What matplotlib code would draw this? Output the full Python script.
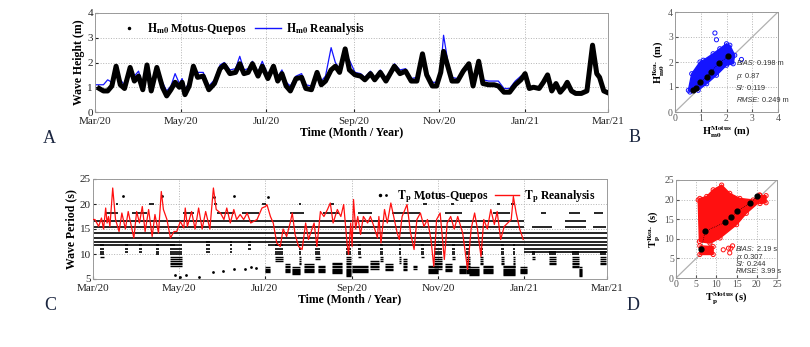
import numpy as np
import matplotlib
matplotlib.use("Agg")
import matplotlib.pyplot as plt
import matplotlib.dates as mdates
from matplotlib.lines import Line2D
from matplotlib.patches import Polygon

plt.rcParams["font.family"] = "Liberation Serif"
plt.rcParams["mathtext.fontset"] = "stix"

START = np.datetime64("2020-03-01T00")
BLUE = "#1414ff"
RED = "#ff1010"
GRID = "#b4b4b4"
LETTER = "#1b2640"

# ── Hm0 time series (day since 2020-03-01) ─────────────────────
hs_day = [0, 3, 6, 9, 12, 15, 18, 21, 25, 28, 31, 34, 37, 40, 44, 48, 51, 54, 57, 60,
          62, 64, 67, 70, 73, 77, 81, 85, 89, 92, 96, 100, 103, 106, 109, 112, 116, 119,
          123, 127, 130, 133, 136, 139, 143, 147, 150, 154, 158, 161, 164, 168, 171, 174,
          178, 181, 185, 189, 192, 196, 199, 203, 207, 213, 217, 221, 225, 229, 233, 236,
          240, 243, 246, 248, 251, 254, 258, 262, 266, 269, 273, 276, 280, 284, 287, 291,
          295, 299, 303, 306, 309, 312, 316, 319, 322, 325, 328, 331, 334, 336, 339, 342,
          346, 350, 354, 357, 359, 362, 364]
hs_obs = [np.nan, 0.95, 0.85, 0.85, 1.05, 1.85, 1.10, 0.95, 1.80, 1.25, 1.45, 0.90, 1.90,
          0.85, 1.80, 1.00, 0.65, 0.90, 1.20, 1.00, 1.20, 0.70, 1.05, 1.85, 1.40, 1.45,
          0.90, 1.15, 1.75, 1.90, 1.55, 1.60, 1.95, 1.55, 1.60, 1.95, 1.45, 1.85, 1.35,
          1.85, 1.25, 1.55, 1.05, 0.85, 1.35, 1.40, 0.95, 0.90, 1.60, 1.10, 1.25, 1.70,
          1.85, 1.60, 2.55, 1.70, 1.50, 1.45, 1.30, 1.55, 1.30, 1.60, 1.25, 1.85, 1.55,
          1.65, 1.25, 1.25, 2.35, 1.50, 1.05, 1.05, 1.60, 2.45, 1.85, 1.25, 1.25, 1.65,
          1.95, 1.05, 2.05, 1.15, 1.10, 1.10, 1.05, 0.80, 0.80, 1.10, 1.30, 1.55, 0.95,
          1.00, 0.95, 1.20, 1.50, 0.85, 1.15, 0.80, 1.00, 1.20, 0.85, 0.75, 0.75, 0.85,
          2.70, 1.55, 1.40, 0.85, 0.80]
hs_rea = [1.10, 1.10, 1.10, 1.30, 1.20, 1.75, 1.30, 1.10, 1.75, 1.45, 1.65, 1.05, 1.95,
          1.05, 1.85, 1.20, 0.85, 1.05, 1.55, 1.15, 1.35, 0.90, 1.20, 1.75, 1.60, 1.60,
          1.05, 1.30, 1.90, 2.00, 1.70, 1.75, 2.25, 1.70, 1.75, 2.05, 1.60, 2.05, 1.50,
          1.90, 1.40, 1.70, 1.20, 1.05, 1.45, 1.55, 1.10, 1.05, 1.65, 1.25, 1.45, 2.60,
          2.00, 1.75, 2.30, 2.10, 1.60, 1.55, 1.40, 1.65, 1.40, 1.70, 1.35, 1.95, 1.70,
          1.75, 1.35, 1.40, 2.20, 1.60, 1.20, 1.20, 1.75, 3.10, 2.05, 1.40, 1.35, 1.75,
          1.70, 1.20, 1.60, 1.30, 1.25, 1.25, 1.25, 0.95, 0.95, 1.25, 1.45, 1.50]
hs_rea += [np.nan] * (len(hs_day) - len(hs_rea))

# ── Tp reanalysis ─────────────────────────────────────────────
tp_rea_day = [0, 1.4, 4, 6, 7.5, 9, 10, 11, 12, 14, 16, 18.5, 20.5, 23, 25, 27.5, 29, 31, 33,
              35, 37, 39.5, 42, 44, 46.5, 48.5, 50, 52.5, 55, 57.5, 59.5, 62, 64.5, 65.5,
              67, 70, 72.5, 75, 77.5, 80, 83, 85.5, 87.5, 90.5, 93, 95, 97.5, 100, 102,
              104.5, 107, 109.5, 112, 116.5, 120, 122.5, 123.5, 126, 128, 130.5, 133, 135,
              137.5, 140, 141.5, 143.5, 146, 148.5, 151, 153, 157, 159, 161.5, 164, 166.5,
              168.5, 170.5, 173.5, 176, 178, 180.5, 181.5, 183, 184, 185, 186.5, 188, 190,
              192, 195, 197, 199.5, 202, 203, 204.5, 207, 209, 211.5, 214, 216, 217.5,
              219.5, 223, 225.5, 228, 230, 232.5, 235, 237.5, 240, 242, 244, 246.5, 249.5,
              251.5, 254, 256.5, 259, 262.5, 266, 268.5, 271, 273, 275.5, 277.5, 280,
              282.5, 285, 287, 289.5, 292, 294.5, 297, 298.5, 300.5, 303, 305.5]
tp_rea = [16.9, 16.9, 15.5, 17.2, 15.0, 19.2, 16.2, 17.5, 15.5, 23.2, 16.9, 14.5, 18.2, 15.0,
          18.5, 15.2, 13.2, 18.5, 16.2, 19.5, 14.5, 18.9, 13.5, 17.9, 14.2, 22.5, 18.9, 16.9,
          13.2, 14.5, 14.5, 16.5, 15.2, 19.2, 15.5, 18.5, 15.0, 19.2, 15.0, 18.5, 15.0, 23.2,
          18.9, 18.2, 16.9, 19.2, 16.2, 18.9, 16.9, 17.9, 16.9, 18.2, 16.2, 16.9, 19.2, 19.5,
          19.9, 17.5, 16.2, 12.2, 11.5, 15.0, 13.5, 16.2, 18.2, 13.9, 11.5, 10.9, 16.2, 12.9,
          16.2, 11.5, 18.5, 17.5, 18.9, 20.2, 16.2, 18.9, 17.5, 19.9, 11.9, 9.9, 16.2, 11.5,
          20.9, 15.0, 17.5, 13.9, 17.5, 16.2, 17.5, 15.5, 13.2, 17.5, 12.2, 18.9, 16.2, 20.2,
          16.9, 14.2, 12.9, 17.5, 19.9, 14.2, 10.9, 16.9, 18.2, 15.5, 16.9, 12.9, 7.5, 16.9,
          18.2, 8.9, 16.2, 17.5, 15.0, 17.5, 14.2, 6.9, 15.0, 18.2, 15.0, 9.5, 16.9, 15.0,
          18.9, 15.9, 18.5, 12.9, 15.5, 16.2, 16.9, 21.5, 18.2, 15.0, 12.9]

# ── Tp observed: buoy period bins and where they were recorded ──
tp_levels = [22.2, 20.0, 18.2, 16.7, 15.4, 14.3, 13.3, 12.5, 11.8, 11.1, 10.5, 10.0, 9.5,
             9.1, 8.7, 8.3, 8.0, 7.7, 7.4, 7.1, 6.9, 6.7, 6.5, 6.2, 6.1, 5.9, 5.7, 5.6]
seg_start = [0, 58, 124, 183, 306,
             9, 28, 64, 88, 106, 140, 163, 188, 212, 250, 284, 318, 338, 356,
             16, 40, 86, 120, 146, 169, 234, 254, 287, 297, 312, 335, 355,
             5, 23, 33, 45, 55, 80, 97, 110, 129, 146, 158, 180, 188, 204, 217, 233, 242,
             255, 265, 275, 290, 298, 312, 324, 340, 345, 360,
             122, 136, 141, 150, 160, 170, 184, 197, 207, 220, 227, 238, 250, 260, 267,
             277, 291, 303]
seg_end = [58, 124, 183, 306, 365,
           18, 38, 72, 100, 118, 150, 175, 198, 232, 262, 296, 322, 346, 362,
           18, 43, 88, 123, 148, 171, 237, 256, 289, 300, 326, 350, 364,
           8, 25, 35, 47, 63, 83, 99, 112, 135, 148, 161, 183, 190, 206, 219, 235, 248,
           257, 268, 277, 292, 300, 314, 329, 345, 347, 364,
           126, 140, 147, 157, 165, 177, 195, 203, 213, 223, 230, 245, 255, 265, 274,
           284, 300, 308]
seg_lo = [11.8, 12.5, 11.8, 11.8, 10.5,
          18.2, 18.2, 18.2, 18.2, 18.2, 18.2, 18.2, 18.2, 18.2, 18.2, 18.2, 18.2, 18.2, 18.2,
          20.0, 20.0, 20.0, 20.0, 20.0, 20.0, 20.0, 20.0, 20.0, 20.0, 15.4, 15.4, 15.4,
          9.5, 10.5, 10.5, 10.0, 7.7, 10.5, 10.5, 11.1, 8.7, 8.0, 9.1, 5.7, 9.5, 8.7, 8.3,
          9.5, 7.1, 9.1, 6.2, 8.0, 8.0, 7.4, 9.1, 8.0, 7.4, 5.7, 8.0,
          6.5, 6.5, 6.1, 6.5, 6.5, 6.2, 6.5, 7.1, 6.9, 6.9, 7.1, 6.2, 6.7, 6.2, 5.9,
          6.2, 5.9, 6.2]
seg_hi = [16.7, 16.7, 16.7, 16.7, 14.3,
          18.2, 18.2, 18.2, 18.2, 18.2, 18.2, 18.2, 18.2, 18.2, 18.2, 18.2, 18.2, 18.2, 18.2,
          20.0, 20.0, 20.0, 20.0, 20.0, 20.0, 20.0, 20.0, 20.0, 20.0, 15.4, 16.7, 15.4,
          11.8, 11.8, 11.8, 11.8, 11.8, 12.5, 12.5, 12.5, 11.8, 11.8, 11.8, 11.8, 11.8,
          11.8, 11.8, 11.8, 11.8, 11.8, 11.8, 11.8, 11.8, 11.8, 10.5, 10.5, 10.5, 7.4, 10.5,
          7.4, 8.0, 7.4, 8.0, 7.7, 8.3, 7.7, 8.7, 8.0, 9.1, 7.7, 7.7, 8.0, 7.7, 7.4,
          7.7, 7.7, 7.4]
tp_dot_day = [21, 49, 86, 100, 124, 208, 234, 58, 62, 66, 75, 85, 92, 100, 108, 112, 116]
tp_dot_val = [21.7, 21.7, 21.5, 21.7, 21.5, 21.9, 21.2, 5.8, 5.4, 5.8, 5.5, 6.5, 6.7, 7.0,
              7.1, 7.5, 7.3]

# ── Scatter B (Hm0) ────────────────────────────────────────────
b_cloud_x = [0.52, 0.65, 0.97, 1.10, 1.48, 1.74, 2.00, 2.13, 2.32, 2.26, 2.00, 1.61, 1.23,
             0.90, 0.58]
b_cloud_y = [0.87, 1.53, 2.00, 2.07, 2.33, 2.53, 2.73, 2.67, 2.27, 1.93, 1.87, 1.47, 1.13,
             0.87, 0.80]
b_out_x = [1.55, 1.61, 2.58]
b_out_y = [3.16, 2.89, 2.10]
b_mean_x = [0.68, 0.80, 0.99, 1.23, 1.39, 1.72, 2.06]
b_mean_y = [0.87, 0.97, 1.20, 1.40, 1.60, 1.96, 2.23]
b_stats = [("BIAS", "0.198 m"), ("ρ", "0.87"), ("SI", "0.119"), ("RMSE", "0.249 m")]

# ── Scatter D (Tp) ─────────────────────────────────────────────
d_cloud_x = [5.5, 5.8, 8.4, 10.9, 15.0, 17.4, 20.7, 20.7, 19.1, 15.8, 13.3, 11.3, 9.2, 7.6,
             5.9]
d_cloud_y = [19.9, 9.3, 8.9, 10.2, 13.6, 16.5, 19.5, 21.2, 19.9, 20.3, 21.6, 23.7, 22.5,
             20.8, 20.3]
d_low_x = [5.9, 9.2, 9.2, 5.9]
d_low_y = [6.0, 6.0, 8.0, 8.2]
d_band_x = [20.8, 22.3, 22.3, 20.8]
d_band_y = [19.0, 19.2, 21.0, 21.0]
d_out_x = [11.7, 13.0, 13.6, 14.0, 13.3]
d_out_y = [7.2, 7.6, 7.6, 8.2, 6.4]
d_mean_x = [6.3, 7.2, 12.1, 13.6, 15.2, 18.4, 20.1]
d_mean_y = [7.5, 11.9, 14.2, 15.5, 17.1, 19.1, 20.9]
d_stats = [("BIAS", "2.19 s"), ("ρ", "0.307"), ("SI", "0.244"), ("RMSE", "3.99 s")]

month_ticks = ["2020-03-01", "2020-05-01", "2020-07-01", "2020-09-01", "2020-11-01",
               "2021-01-01", "2021-03-01"]


def to_num(days):
    hours = np.round(np.asarray(days, dtype=float) * 24).astype(int)
    return mdates.date2num(START + hours.astype("timedelta64[h]"))


def style_time_axis(ax, ylim, yticks, ylabel):
    ax.set_xlim(to_num([0])[0], to_num([365])[0])
    ax.set_ylim(*ylim)
    ax.set_yticks(yticks)
    ticks = mdates.date2num(np.array(month_ticks, dtype="datetime64[D]"))
    ax.set_xticks(ticks)
    ax.xaxis.set_major_formatter(mdates.DateFormatter("%b/%y"))
    ax.grid(True, color=GRID, linestyle=":", linewidth=0.7)
    ax.tick_params(direction="in", length=2, labelsize=8, colors="#222222")
    ax.tick_params(axis="x", pad=3.5)
    ax.tick_params(axis="y", pad=1.5)
    for s in ax.spines.values():
        s.set_color("#9a9a9a")
        s.set_linewidth(0.7)
    ax.set_xlabel("Time (Month / Year)", fontsize=8.5, fontweight="bold", labelpad=0)
    ax.set_ylabel(ylabel, fontsize=8.5, fontweight="bold", labelpad=2)


def style_scatter(ax, lim, ticks, xlabel, ylabel, stats, ystat):
    ax.set_xlim(0, lim)
    ax.set_ylim(0, lim)
    ax.set_xticks(ticks)
    ax.set_yticks(ticks)
    ax.grid(True, color=GRID, linestyle=":", linewidth=0.7)
    ax.tick_params(direction="in", length=2, labelsize=7, pad=1.5, colors="#555555")
    for s in ax.spines.values():
        s.set_color("#9a9a9a")
        s.set_linewidth(0.7)
    ax.plot([0, lim], [0, lim], color="#b0b0b0", lw=0.9, zorder=1)
    ax.set_xlabel(xlabel, fontsize=7.5, fontweight="bold", labelpad=1)
    ax.set_ylabel(ylabel, fontsize=7.5, fontweight="bold", labelpad=1)
    for (name, val), y in zip(stats, ystat):
        t = ax.text(0.595, y, name + ":", transform=ax.transAxes, fontsize=5.3,
                    family="Liberation Sans", style="italic", color="#333333",
                    ha="left", va="baseline", zorder=6, clip_on=False)
        ax.annotate(" " + val, xy=(1, 0), xycoords=t, fontsize=5.3,
                    family="Liberation Sans", color="#333333", ha="left",
                    va="bottom", zorder=6, annotation_clip=False)


W, H = 810, 347
fig = plt.figure(figsize=(W / 100, H / 100), dpi=100, facecolor="white")


def px_axes(left, top, right, bottom):
    return fig.add_axes([left / W, 1 - bottom / H, (right - left) / W, (bottom - top) / H])


# ── Panel A ────────────────────────────────────────────────────
axA = px_axes(95, 13, 608, 112)
xs = to_num(hs_day)
axA.plot(xs, hs_rea, color=BLUE, lw=0.9, zorder=2)
axA.plot(xs, hs_obs, color="black", lw=3.6, solid_joinstyle="round", zorder=3)
style_time_axis(axA, (0, 4), [0, 1, 2, 3, 4], "Wave Height (m)")
handles = [Line2D([], [], color="black", marker=".", ms=3, lw=0),
           Line2D([], [], color=BLUE, lw=1)]
axA.legend(handles, [r"$\mathbf{H_{m0}}$ Motus-Quepos", r"$\mathbf{H_{m0}}$ Reanalysis"],
           loc="upper left", bbox_to_anchor=(0.02, 1.03), ncol=2, frameon=False,
           prop={"weight": "bold", "size": 8.5}, handlelength=2.2, handletextpad=0.4,
           columnspacing=0.8)

# ── Panel C ────────────────────────────────────────────────────
axC = px_axes(93, 179, 607, 279)
lv = np.array(tp_levels)
for s, e, lo, hi in zip(seg_start, seg_end, seg_lo, seg_hi):
    rows = lv[(lv >= lo - 0.01) & (lv <= hi + 0.01)]
    x0, x1 = to_num([s, e])
    for r in rows:
        axC.hlines(r, x0, x1, color="black", lw=1.2 if r >= 9.8 else 1.0, zorder=2)
axC.scatter(to_num(tp_dot_day), tp_dot_val, s=4, color="black", lw=0, zorder=2)
axC.plot(to_num(tp_rea_day), tp_rea, color=RED, lw=0.9, zorder=3)
style_time_axis(axC, (5, 25), [5, 10, 15, 20, 25], "Wave Period (s)")
handles = [Line2D([], [], color="black", marker=".", ms=3, lw=0),
           Line2D([], [], color=RED, lw=1)]
legC = axC.legend(handles, [r"$\mathbf{T_{p}}$ Motus-Quepos", r"$\mathbf{T_{p}}$ Reanalysis"],
                  loc="upper left", bbox_to_anchor=(0.515, 1.01), ncol=2, frameon=False,
                  prop={"weight": "bold", "size": 8.5}, handlelength=2.0,
                  handletextpad=0.4, columnspacing=0.6)
legC.set_zorder(5)

# ── Panel B ────────────────────────────────────────────────────
axB = px_axes(675, 12, 778, 112)
axB.add_patch(Polygon(np.column_stack([b_cloud_x, b_cloud_y]), closed=True,
                      facecolor=BLUE, edgecolor=BLUE, lw=1, zorder=2))
axB.scatter(b_cloud_x, b_cloud_y, s=9, facecolors="none", edgecolors=BLUE, lw=0.7, zorder=2)
axB.scatter(b_out_x, b_out_y, s=9, facecolors="none", edgecolors=BLUE, lw=0.7, zorder=2)
axB.plot(b_mean_x, b_mean_y, color="black", lw=0.5, ls=":", zorder=4)
axB.scatter(b_mean_x, b_mean_y, s=12, color="black", zorder=5)
style_scatter(axB, 4, [0, 1, 2, 3, 4], r"$\mathbf{H_{m0}^{Motus}}$ (m)",
              r"$\mathbf{H_{m0}^{Rea.}}$ (m)", b_stats, [0.47, 0.345, 0.225, 0.1])

# ── Panel D ────────────────────────────────────────────────────
axD = px_axes(676, 180, 777, 278)
for px, py in [(d_cloud_x, d_cloud_y), (d_low_x, d_low_y), (d_band_x, d_band_y)]:
    axD.add_patch(Polygon(np.column_stack([px, py]), closed=True,
                          facecolor=RED, edgecolor=RED, lw=1, zorder=2))
    axD.scatter(px, py, s=9, facecolors="none", edgecolors=RED, lw=0.7, zorder=2)
axD.scatter(d_out_x, d_out_y, s=9, facecolors="none", edgecolors=RED, lw=0.7, zorder=2)
axD.plot(d_mean_x, d_mean_y, color="black", lw=0.5, ls=":", zorder=4)
axD.scatter(d_mean_x, d_mean_y, s=12, color="black", zorder=5)
style_scatter(axD, 25, [0, 5, 10, 15, 20, 25], r"$\mathbf{T_{p}^{Motus}}$ (s)",
              r"$\mathbf{T_{p}^{Rea.}}$ (s)", d_stats, [0.28, 0.195, 0.125, 0.055])

# ── Panel letters ─────────────────────────────────────────────
for letter, x, y in [("A", 49, 139), ("B", 635, 138), ("C", 50, 305), ("D", 633, 305)]:
    fig.text(x / W, 1 - y / H, letter, fontsize=13, color=LETTER, ha="center", va="center")

fig.savefig("out.png", dpi=100, facecolor="white")
